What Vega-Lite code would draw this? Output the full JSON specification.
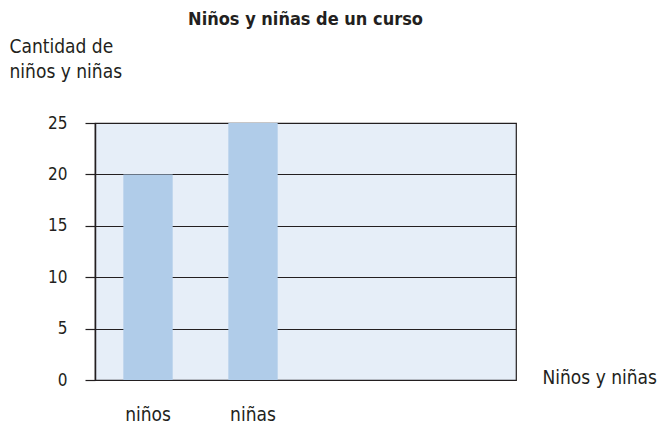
{
  "$schema": "https://vega.github.io/schema/vega-lite/v6.json",
  "width": 421,
  "height": 257,
  "autosize": "none",
  "padding": {"left": 95, "top": 123, "right": 147, "bottom": 43},
  "background": "white",
  "config": {
    "font": "DejaVu Sans Condensed, sans-serif",
    "view": {"fill": "#e6eef8", "stroke": "#231f20", "strokeWidth": 1.2},
    "axis": {"labelColor": "#231f20", "titleColor": "#231f20", "labelFontSize": 17, "titleFontSize": 19, "titleFontWeight": "normal", "domainColor": "#231f20", "tickColor": "#231f20"}
  },
  "title": {"text": "Niños y niñas de un curso", "fontSize": 18, "fontWeight": "bold", "color": "#231f20", "anchor": "middle", "offset": 8, "font": "DejaVu Sans Condensed, sans-serif"},
  "data": {"values": [
    {"grupo": "niños", "cantidad": 20},
    {"grupo": "niñas", "cantidad": 25}
  ]},
  "mark": {"type": "bar", "color": "#b0cce9"},
  "encoding": {
    "x": {
      "field": "grupo", "type": "nominal",
      "scale": {"domain": ["niños", "niñas", "c3", "c4"], "paddingInner": 0.53, "paddingOuter": 0.27},
      "axis": {
        "labelAngle": 0, "ticks": false, "domain": false, "labelPadding": 40, "labelFontSize": 19, "labelBaseline": "alphabetic",
        "labelExpr": "datum.label == 'niños' || datum.label == 'niñas' ? datum.label : ''",
        "title": "Niños y niñas", "titleAnchor": null, "titleAlign": "left", "titleBaseline": "alphabetic",
        "titleX": 447, "titleY": 3
      }
    },
    "y": {
      "field": "cantidad", "type": "quantitative",
      "scale": {"domain": [0, 25], "nice": false},
      "axis": {
        "values": [0, 5, 10, 15, 20, 25], "tickSize": 10, "tickWidth": 1.2, "labelPadding": 18,
        "grid": true, "gridColor": "#231f20", "gridWidth": 1.2, "gridOpacity": 1,
        "domainWidth": 1.5,
        "title": ["Cantidad de", "niños y niñas"], "titleAngle": 0, "titleAlign": "left", "titleBaseline": "top",
        "titleAnchor": null, "titleX": -86, "titleY": -86, "titleLineHeight": 25
      }
    }
  }
}
